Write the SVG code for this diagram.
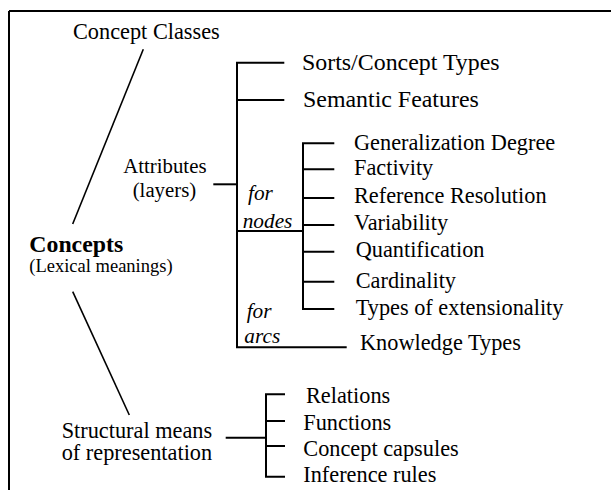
<svg xmlns="http://www.w3.org/2000/svg" width="611" height="490" viewBox="0 0 611 490">
<style>
text{font-family:"Liberation Serif","Times New Roman",serif;fill:#000;font-size:22.3px}
.big{font-size:23.9px}
.mid{font-size:20.8px}
.it{font-style:italic;font-size:21.3px}
.bold{font-weight:bold;font-size:23.8px}
.small{font-size:18.5px}
.ln{stroke:#000;stroke-width:2;fill:none}
.sl{stroke:#000;stroke-width:1.6;fill:none}
</style>
<rect width="611" height="490" fill="#fff"/>
<g id="frame">
<path class="ln" d="M9,11 H611 M9,11 V490"/>
</g>
<g id="connectors">
<path class="sl" d="M143.3,49.3 L72.7,224"/>
<path class="sl" d="M72.7,291.7 L129.3,415"/>
<path class="ln" d="M284.3,62.7 H237 V347.3 H346.7"/>
<path class="ln" d="M237,100 H284.3"/>
<path class="ln" d="M213.3,184.3 H237"/>
<path class="ln" d="M237,231 H303"/>
<path class="ln" d="M334.3,143.3 H303 V309 H334.3"/>
<path class="ln" d="M303,169.3 H334.3 M303,198 H334.3 M303,225 H334.3 M303,251.7 H334.3 M303,281.7 H334.3"/>
<path class="ln" d="M285,394.3 H266 V476.7 H285"/>
<path class="ln" d="M266,421 H285 M266,446 H285"/>
<path class="ln" d="M225.7,437.7 H266"/>
</g>
<g id="concept-classes"><text x="73" y="39">Concept Classes</text></g>
<g id="concepts"><text class="bold" x="29.3" y="251.7">Concepts</text><text class="small" x="29.3" y="272">(Lexical meanings)</text></g>
<g id="attributes"><text class="mid" x="123.3" y="173.3">Attributes</text><text class="mid" x="132.7" y="197">(layers)</text></g>
<g id="label-for-nodes"><text class="it" x="248" y="200">for</text><text class="it" x="242.7" y="227.7">nodes</text></g>
<g id="label-for-arcs"><text class="it" x="246.7" y="318.3">for</text><text class="it" x="244.3" y="343.3">arcs</text></g>
<g id="sorts"><text class="big" x="302" y="70">Sorts/Concept Types</text></g>
<g id="semantic-features"><text class="big" x="303" y="106.7">Semantic Features</text></g>
<g id="generalization-degree"><text x="354" y="150">Generalization Degree</text></g>
<g id="factivity"><text x="354" y="175">Factivity</text></g>
<g id="reference-resolution"><text x="354" y="202.7">Reference Resolution</text></g>
<g id="variability"><text x="354" y="229.5">Variability</text></g>
<g id="quantification"><text x="355.7" y="256.7">Quantification</text></g>
<g id="cardinality"><text x="355.7" y="288.3">Cardinality</text></g>
<g id="types-of-extensionality"><text x="355.7" y="315">Types of extensionality</text></g>
<g id="knowledge-types"><text x="360" y="350">Knowledge Types</text></g>
<g id="structural-means"><text x="61.7" y="438.3">Structural means</text><text x="61.7" y="460">of representation</text></g>
<g id="relations"><text x="306" y="403.3">Relations</text></g>
<g id="functions"><text x="303.3" y="430">Functions</text></g>
<g id="concept-capsules"><text x="303.3" y="456">Concept capsules</text></g>
<g id="inference-rules"><text x="303.3" y="481.7">Inference rules</text></g>
</svg>
